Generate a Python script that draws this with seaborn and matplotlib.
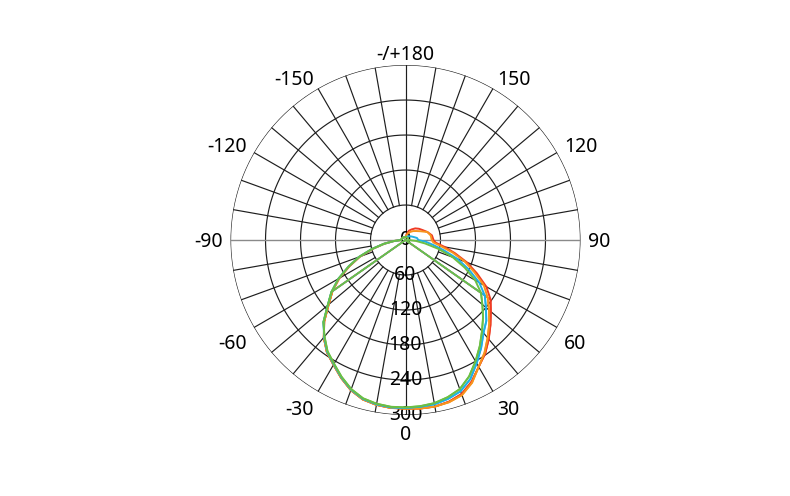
import numpy as np
import pandas as pd
import matplotlib
matplotlib.use("Agg")
import matplotlib.pyplot as plt
import seaborn as sns

# gamma angles of the main curves (deg, 0 = straight down)
angles_main = ([-180, -170, -160, -150, -140, -130, -120, -110, -100]
               + list(range(-90, 95, 5))
               + [100, 110, 120, 130, 140, 150, 160, 170, 180])

# intensity values per series, same order as angles_main
red_main = ([5, 5, 5, 5, 6, 6, 6, 7, 7]
            + [8, 20, 37, 58, 83, 106, 131, 153, 172, 197, 218, 235, 247, 261, 274, 283, 287, 289]
            + [289, 290, 290, 287, 281, 268, 251, 238, 222, 206, 191, 178, 160, 135, 112, 88, 68, 52, 48]
            + [46, 40, 34, 30, 26, 21, 17, 9, 5])
orange_main = ([5, 5, 5, 5, 6, 6, 6, 7, 7]
               + [8, 20, 37, 58, 83, 106, 131, 153, 172, 197, 218, 235, 247, 261, 274, 283, 287, 289]
               + [289, 290, 290, 288, 283, 270, 251, 236, 219, 203, 187, 172, 155, 130, 108, 84, 62, 48, 45]
               + [44, 40, 30, 24, 20, 16, 12, 8, 5])
blue_main = ([5, 5, 5, 5, 6, 6, 6, 7, 7]
             + [8, 20, 38, 60, 85, 108, 133, 155, 174, 199, 217, 234, 246, 260, 273, 282, 286, 288]
             + [288, 287, 286, 282, 276, 263, 244, 226, 208, 196, 180, 166, 146, 120, 95, 68, 48, 35, 22]
             + [20, 15, 12, 10, 8, 7, 6, 5, 5])
green_main = ([5, 5, 5, 5, 6, 6, 6, 7, 7]
              + [8, 20, 38, 60, 85, 108, 133, 155, 174, 199, 216, 233, 245, 259, 272, 281, 285, 287]
              + [287, 286, 284, 279, 272, 258, 240, 222, 204, 188, 172, 158, 138, 112, 86, 58, 34, 18, 5]
              + [5, 5, 5, 5, 5, 5, 5, 5, 5])

# second plane: follows the main curve between these limits, drops to 0 at +/-90
coarse_limits = [-55, 55]
coarse_end_angles = [-90, 90]
coarse_end_values = [0, 0]

series_names = ["red", "orange", "blue", "green"]
series_colors = ["#ef3b24", "#f7941d", "#1fb0e6", "#6cbf45"]
main_values = [red_main, orange_main, blue_main, green_main]

angle_ticks = [0, 30, 60, 90, 120, 150, 180, -150, -120, -90, -60, -30]
angle_labels = ["0", "30", "60", "90", "120", "150", "-/+180", "-150", "-120", "-90", "-60", "-30"]
radius_ticks = [0, 60, 120, 180, 240, 300]

frames = []
for name, vals in zip(series_names, main_values):
    frames.append(pd.DataFrame({"series": name, "angle": angles_main, "value": vals}))
df = pd.concat(frames, ignore_index=True)
df["theta"] = np.radians(df["angle"])

plt.rcParams["font.family"] = ["Noto Sans", "DejaVu Sans"]

fig = plt.figure(figsize=(7.9, 4.96), dpi=100)
ax = fig.add_axes([0.2918, 0.1633, 0.4430, 0.7056], projection="polar")
ax.set_theta_zero_location("S")
ax.set_theta_direction(1)
ax.set_ylim(0, 300)
ax.grid(False)
ax.spines["polar"].set_visible(False)

# grid: circles and spokes
grid_col = "#1e1e1e"
full = np.linspace(0, 2 * np.pi, 361)
for r in radius_ticks[1:]:
    ax.plot(full, np.full_like(full, r), color=grid_col, lw=0.85, zorder=1)
for a in range(0, 360, 10):
    t = np.radians(a)
    if a in (90, 270):
        ax.plot([t, t], [0, 300], color="#8a8a8a", lw=1.0, zorder=1)
    elif a in (0, 180):
        ax.plot([t, t], [0, 300], color=grid_col, lw=0.85, zorder=1)
    else:
        ax.plot([t, t], [60, 300], color=grid_col, lw=0.85, zorder=1)

# angle labels, anchored on the side facing the circle (offsets in pixels)
margin = 8
for a, lab in zip(angle_ticks, angle_labels):
    t = np.radians(a)
    sx, sy = np.sin(t), -np.cos(t)  # screen direction, y up
    ha = "left" if sx > 0.01 else ("right" if sx < -0.01 else "center")
    if sy > 0.01:
        dy_extra = 4
    elif sy < -0.01:
        dy_extra = -10
    else:
        dy_extra = 0
    ax.annotate(lab, xy=(t, 300), xytext=(margin * sx, margin * sy + dy_extra - 2),
                textcoords="offset pixels", ha=ha, va="center", fontsize=14,
                color="black", annotation_clip=False)
for r in radius_ticks:
    ax.text(0, r, str(r), ha="center", va="center", fontsize=14,
            color="black", zorder=2)

# curves
for name, col in zip(series_names, series_colors):
    sub = df[df["series"] == name]
    inner = sub[(sub["angle"] >= coarse_limits[0]) & (sub["angle"] <= coarse_limits[1])]
    c_theta = np.concatenate([np.radians(coarse_end_angles[:1]), inner["theta"].values,
                              np.radians(coarse_end_angles[1:])])
    c_vals = np.concatenate([coarse_end_values[:1], inner["value"].values, coarse_end_values[1:]])
    sns.lineplot(x=c_theta, y=c_vals, sort=False, estimator=None,
                 ax=ax, color=col, linewidth=1.2, zorder=3)
    sns.lineplot(data=sub, x="theta", y="value", sort=False, estimator=None,
                 ax=ax, color=col, linewidth=1.4, zorder=3)

ax.set_xlabel("")
ax.set_ylabel("")
ax.set_ylim(0, 300)
ax.set_xticks([])
ax.set_yticks([])

fig.savefig("out.png", dpi=100)
